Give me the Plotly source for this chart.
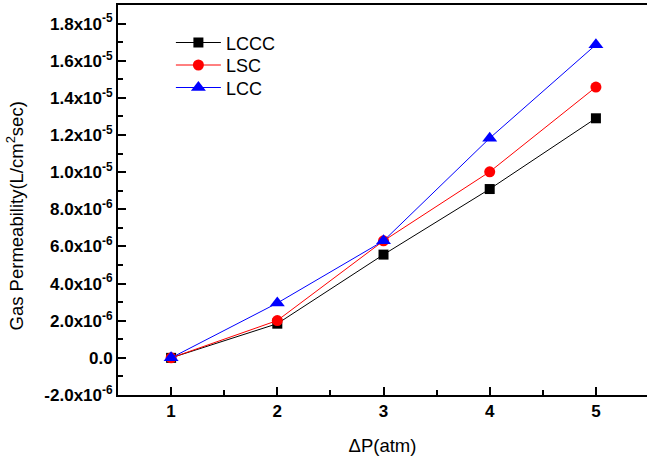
import plotly.graph_objects as go

dp = [1, 2, 3, 4, 5]
lccc = [0.0, 1.84e-6, 5.56e-6, 9.09e-6, 1.29e-5]
lsc = [0.0, 2.01e-6, 6.30e-6, 1.002e-5, 1.458e-5]
lcc = [0.0, 2.95e-6, 6.30e-6, 1.183e-5, 1.686e-5]

y_tickvals = [-2e-6, 0, 2e-6, 4e-6, 6e-6, 8e-6, 1e-5, 1.2e-5, 1.4e-5, 1.6e-5, 1.8e-5]
y_ticktext = ["-2.0x10<sup>-6</sup>", "0.0", "2.0x10<sup>-6</sup>", "4.0x10<sup>-6</sup>",
              "6.0x10<sup>-6</sup>", "8.0x10<sup>-6</sup>", "1.0x10<sup>-5</sup>",
              "1.2x10<sup>-5</sup>", "1.4x10<sup>-5</sup>", "1.6x10<sup>-5</sup>",
              "1.8x10<sup>-5</sup>"]
x_tickvals = [1, 2, 3, 4, 5]

FONT = "Liberation Sans, Arial, sans-serif"

fig = go.Figure()
fig.add_trace(go.Scatter(x=dp, y=lccc, name="LCCC", mode="lines+markers", legend="legend",
                         line=dict(color="black", width=1),
                         marker=dict(symbol="square", size=10, color="black")))
fig.add_trace(go.Scatter(x=dp, y=lsc, name="LSC", mode="lines+markers", legend="legend2",
                         line=dict(color="#ff0000", width=1),
                         marker=dict(symbol="circle", size=11, color="#ff0000")))
fig.add_trace(go.Scatter(x=dp, y=lcc, name="LCC", mode="lines+markers", legend="legend3",
                         line=dict(color="#0000ff", width=1),
                         marker=dict(symbol="triangle-up", size=13, color="#0000ff")))

leg_common = dict(x=0.1, xanchor="left", yanchor="top", bgcolor="rgba(0,0,0,0)",
                  font=dict(size=18, family=FONT), itemwidth=45)

fig.update_layout(
    width=647, height=456,
    margin=dict(l=118, r=0, t=5, b=61, autoexpand=False),
    plot_bgcolor="white", paper_bgcolor="white",
    font=dict(family=FONT, color="black"),
    showlegend=True,
    legend=dict(y=0.9505, **leg_common),
    legend2=dict(y=0.8928, **leg_common),
    legend3=dict(y=0.8351, **leg_common),
    xaxis=dict(range=[0.5, 5.481], tickvals=x_tickvals, automargin=False,
               ticks="inside", ticklen=8, tickwidth=2, tickcolor="black",
               minor=dict(dtick=0.5, tick0=0.5, ticks="inside", ticklen=5,
                          tickwidth=2, tickcolor="black"),
               showline=True, linewidth=2, linecolor="black", mirror=True,
               showgrid=False, zeroline=False,
               tickfont=dict(size=17, family=FONT, weight="bold"),
               title=dict(text="ΔP(atm)", font=dict(size=18.5, family=FONT), standoff=19)),
    yaxis=dict(range=[-2e-6, 1.9e-5], tickvals=y_tickvals, ticktext=y_ticktext,
               automargin=False, mirror=False,
               ticks="inside", ticklen=8, tickwidth=2, tickcolor="black",
               minor=dict(dtick=1e-6, tick0=0, ticks="inside", ticklen=5,
                          tickwidth=2, tickcolor="black"),
               showline=True, linewidth=2, linecolor="black",
               showgrid=False, zeroline=False,
               tickfont=dict(size=17, family=FONT, weight="bold")),
    annotations=[dict(text="Gas Permeability(L/cm<sup>2</sup>sec)", xref="paper", yref="paper",
                      x=-0.195, y=0.46, xanchor="center", yanchor="middle", textangle=-90,
                      showarrow=False, font=dict(size=18.5, family=FONT))],
)

fig.write_html("out.html", config={"displayModeBar": False},
               post_script="document.body.style.margin='0px';document.body.style.overflow='hidden';")
